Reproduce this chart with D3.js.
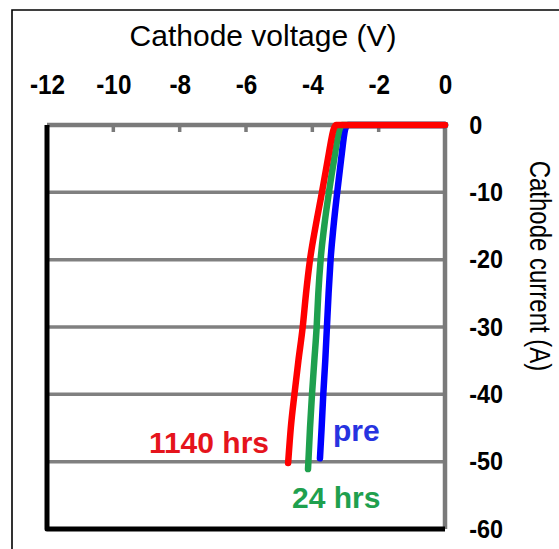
<!DOCTYPE html>
<html>
<head>
<meta charset="utf-8">
<script src="https://cdn.jsdelivr.net/npm/d3@7"></script>
<style>
  html, body { margin: 0; padding: 0; background: #fff; }
  svg { display: block; font-family: "Liberation Sans", Arial, sans-serif; }
</style>
</head>
<body>
<svg id="chart" width="559" height="549"></svg>
<script>
// Cathode I-V characteristics at three ages of the cathode
const xTicks = [-12, -10, -8, -6, -4, -2, 0];
const yTicks = [0, -10, -20, -30, -40, -50, -60];

// pre-test
const preV = [0, -2.92, -3.00, -3.13, -3.25, -3.36, -3.45, -3.51, -3.56, -3.61, -3.67, -3.72, -3.77];
const preI = [0, 0, -0.5, -5, -10, -15, -20, -25, -30, -35, -40, -45, -49.5];
// after 24 hrs
const h24V = [0, -3.10, -3.17, -3.34, -3.50, -3.64, -3.75, -3.82, -3.87, -3.94, -4.01, -4.07, -4.13];
const h24I = [0, 0, -0.5, -5, -10, -15, -20, -25, -30, -35, -40, -45, -51.1];
// after 1140 hrs
const h1140V = [0, -3.28, -3.35, -3.53, -3.71, -3.90, -4.07, -4.19, -4.29, -4.42, -4.54, -4.65, -4.73];
const h1140I = [0, 0, -0.5, -5, -10, -15, -20, -25, -30, -35, -40, -45, -50.2];

const seriesNames = ["pre", "24 hrs", "1140 hrs"];
const seriesColors = ["#0000ff", "#1fa04e", "#ff0000"];
const labelColors = ["#2733e0", "#1fa04e", "#e5141c"];

const svg = d3.select("#chart");
const x = d3.scaleLinear().domain([-12, 0]).range([47, 445]);
const y = d3.scaleLinear().domain([-60, 0]).range([529, 125]);
const fmt = d => String(d);

// outer figure frame
svg.append("path")
  .attr("d", "M12,549 L12,10 L559,10")
  .attr("fill", "none").attr("stroke", "#000").attr("stroke-width", 1.6);

// horizontal grid lines
svg.append("g").selectAll("line")
  .data(yTicks.filter(v => v < 0 && v > -60))
  .join("line")
  .attr("x1", x(-12)).attr("x2", x(0))
  .attr("y1", d => y(d)).attr("y2", d => y(d))
  .attr("stroke", "#808080").attr("stroke-width", 3.5);

// plot frame: grey top/right, black left/bottom
svg.append("path")
  .attr("d", `M${x(-12)},${y(0)} L${x(0)},${y(0)} L${x(0)},${y(-60)}`)
  .attr("fill", "none").attr("stroke", "#7a7a7a").attr("stroke-width", 4.5);
svg.append("path")
  .attr("d", `M${x(-12)},${y(0)} L${x(-12)},${y(-60)} L${x(0)},${y(-60)}`)
  .attr("fill", "none").attr("stroke", "#000").attr("stroke-width", 5)
  .attr("stroke-linejoin", "round");

// small tick marks hanging from the top frame
svg.append("g").selectAll("line")
  .data(xTicks.filter(v => v > -12 && v < 0))
  .join("line")
  .attr("x1", d => x(d)).attr("x2", d => x(d))
  .attr("y1", y(0)).attr("y2", y(0) + 7)
  .attr("stroke", "#7a7a7a").attr("stroke-width", 3.5);

// curves: monotone in voltage keeps the zero-current segment flat
const line = d3.line().x(d => x(d[0])).y(d => y(d[1])).curve(d3.curveMonotoneX);
const series = [
  d3.zip(preV, preI),
  d3.zip(h24V, h24I),
  d3.zip(h1140V, h1140I)
];
svg.append("g").selectAll("path")
  .data(series)
  .join("path")
  .attr("d", line)
  .attr("fill", "none")
  .attr("stroke", (d, i) => seriesColors[i])
  .attr("stroke-width", 6.5)
  .attr("stroke-linejoin", "round")
  .attr("stroke-linecap", "round");

// top axis labels (slightly condensed bold figures)
const xAxis = svg.append("g")
  .attr("transform", `translate(0,${y(0)})`)
  .call(d3.axisTop(x).tickValues(xTicks).tickSize(0).tickPadding(31).tickFormat(fmt));
xAxis.select(".domain").remove();
xAxis.selectAll("text")
  .attr("font-size", 27).attr("font-weight", "bold").attr("fill", "#000")
  .attr("font-family", "'Liberation Sans', Arial, sans-serif")
  .attr("transform", "scale(0.9,1)");

// right axis labels
const yAxis = svg.append("g")
  .attr("transform", `translate(${x(0)},0)`)
  .call(d3.axisRight(y).tickValues(yTicks).tickSize(0).tickPadding(27).tickFormat(fmt));
yAxis.select(".domain").remove();
yAxis.selectAll("text")
  .attr("font-size", 26).attr("font-weight", "bold").attr("fill", "#000")
  .attr("font-family", "'Liberation Sans', Arial, sans-serif")
  .attr("transform", "scale(0.9,1)");

// axis titles
svg.append("text")
  .attr("x", 263).attr("y", 46)
  .attr("text-anchor", "middle")
  .attr("font-size", 30)
  .text("Cathode voltage (V)");

svg.append("text")
  .attr("transform", "translate(530,266) rotate(90) scale(1,1.2)")
  .attr("text-anchor", "middle")
  .attr("font-size", 24)
  .text("Cathode current (A)");

// curve labels
svg.append("text")
  .attr("x", 269).attr("y", 453)
  .attr("text-anchor", "end")
  .attr("font-size", 30).attr("font-weight", "bold")
  .attr("fill", labelColors[2])
  .text(seriesNames[2]);
svg.append("text")
  .attr("x", 333).attr("y", 441)
  .attr("font-size", 30).attr("font-weight", "bold")
  .attr("fill", labelColors[0])
  .text(seriesNames[0]);
svg.append("text")
  .attr("x", 292).attr("y", 508)
  .attr("font-size", 30).attr("font-weight", "bold")
  .attr("fill", labelColors[1])
  .text(seriesNames[1]);
</script>
</body>
</html>
